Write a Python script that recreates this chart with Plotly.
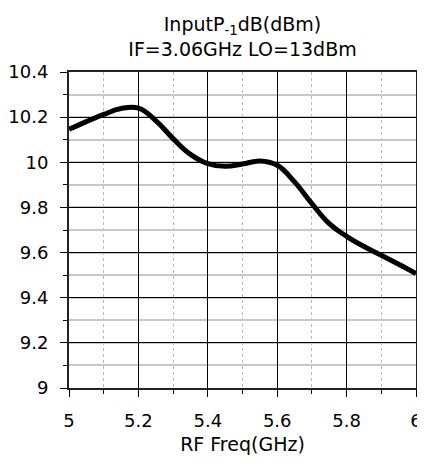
import plotly.graph_objects as go

freq = [5.0, 5.05, 5.1, 5.15, 5.2, 5.25, 5.3, 5.35, 5.4, 5.45, 5.5, 5.55, 5.6, 5.65, 5.7, 5.75, 5.8, 5.85, 5.9, 5.95, 6.0]
p1db = [10.146, 10.18, 10.212, 10.238, 10.24, 10.185, 10.105, 10.035, 9.994, 9.982, 9.992, 10.006, 9.987, 9.913, 9.817, 9.728, 9.672, 9.627, 9.588, 9.548, 9.507]

x_ticks = [5, 5.2, 5.4, 5.6, 5.8, 6]
y_ticks = [9, 9.2, 9.4, 9.6, 9.8, 10, 10.2, 10.4]
y_labels = ["9", "9.2", "9.4", "9.6", "9.8", "10", "10.2", "10.4"]

FONT = "DejaVu Sans"
OFF = 8  # browser default body margin
W, H = 425 - OFF, 463 - 2 * OFF

fig = go.Figure()
fig.add_trace(go.Scatter(x=freq, y=p1db, mode="lines",
                         line=dict(color="black", width=5, shape="spline", smoothing=1.2),
                         showlegend=False, hoverinfo="skip"))

fig.update_layout(
    width=W, height=H,
    margin=dict(l=69 - OFF, r=9, t=72 - OFF, b=H - (388 - OFF), autoexpand=False),
    paper_bgcolor="white", plot_bgcolor="white",
    font=dict(family=FONT, size=18, color="black"),
    title=dict(text="InputP<sub>-1</sub>dB(dBm)<br>IF=3.06GHz LO=13dBm",
               x=0.5, xanchor="center", xref="paper",
               y=1 - (31 - OFF) / H, yanchor="middle", yref="container",
               font=dict(family=FONT, size=19, color="black")),
)

fig.update_xaxes(
    range=[5, 6], tickvals=x_ticks, ticktext=[str(v) for v in x_ticks],
    automargin=False,
    showgrid=True, gridcolor="black", gridwidth=1,
    showline=True, linecolor="#222222", linewidth=2, mirror=True,
    ticks="outside", ticklen=7, tickcolor="black", tickwidth=1,
    ticklabelstandoff=8,
    minor=dict(dtick=0.1, showgrid=True, gridcolor="#b8b8b8", griddash="dot", gridwidth=1,
               ticks="outside", ticklen=4, tickcolor="black"),
    zeroline=False,
    title=dict(text="RF Freq(GHz)", font=dict(family=FONT, size=19), standoff=11),
    tickfont=dict(family=FONT, size=18),
)
fig.update_yaxes(
    range=[9, 10.4], tickvals=y_ticks, ticktext=y_labels,
    automargin=False,
    showgrid=True, gridcolor="black", gridwidth=1,
    showline=True, linecolor="#222222", linewidth=2, mirror=True,
    ticks="outside", ticklen=7, tickcolor="black", tickwidth=1,
    ticklabelstandoff=8,
    minor=dict(dtick=0.1, showgrid=True, gridcolor="#c8c8c8", gridwidth=1.5,
               ticks="outside", ticklen=4, tickcolor="black"),
    zeroline=False,
    tickfont=dict(family=FONT, size=18),
)

fig.write_html("out.html")
